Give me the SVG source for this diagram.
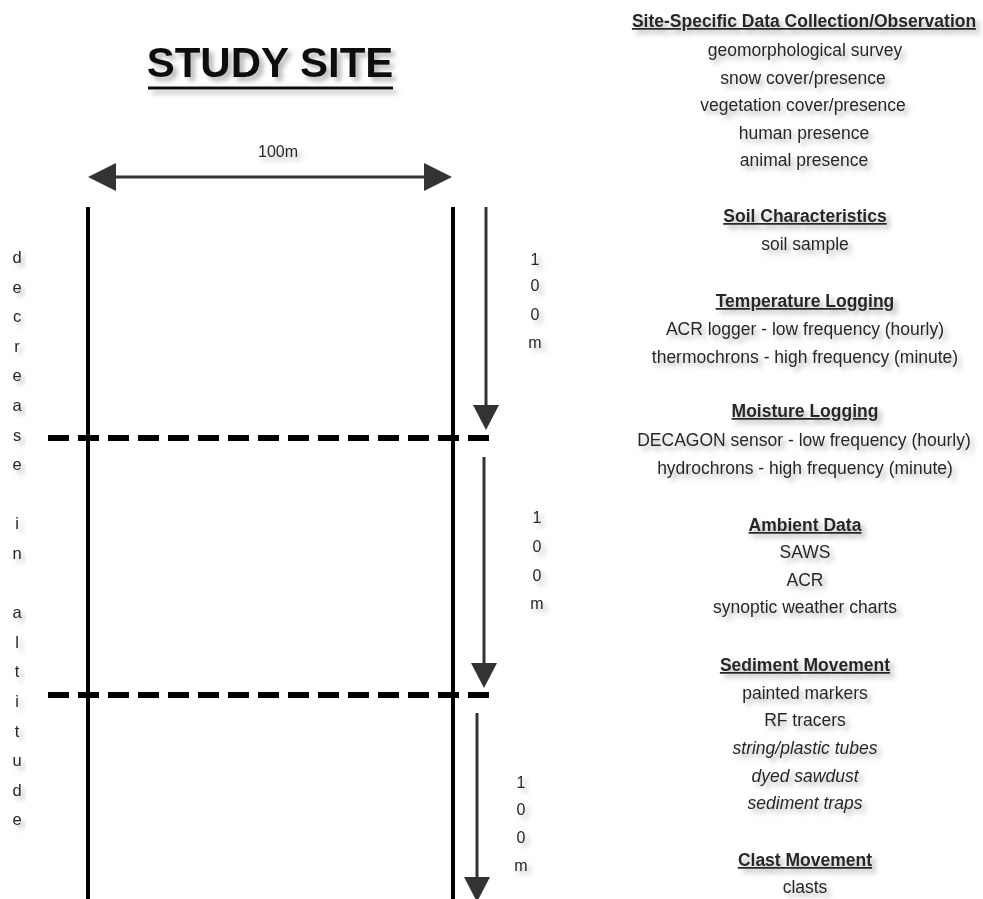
<svg xmlns="http://www.w3.org/2000/svg" width="983" height="899" viewBox="0 0 983 899">
<defs>
<filter id="sh" x="-20%" y="-50%" width="150%" height="250%">
<feDropShadow dx="4" dy="4" stdDeviation="2.4" flood-color="#777" flood-opacity="0.55"/>
</filter>
<marker id="ah" viewBox="0 0 25 26" refX="5" refY="13" markerWidth="25" markerHeight="26" markerUnits="userSpaceOnUse" orient="auto-start-reverse">
<path d="M0,0 L25,13 L0,26 Z" fill="#333"/>
</marker>
<marker id="ahh" viewBox="0 0 28 28" refX="6" refY="14" markerWidth="28" markerHeight="28" markerUnits="userSpaceOnUse" orient="auto-start-reverse">
<path d="M0,0 L28,14 L0,28 Z" fill="#333"/>
</marker>
</defs>
<style>
text{font-family:"Liberation Sans",Arial,sans-serif;fill:#262626}
.t{font-size:17.5px;text-anchor:middle}
.h{font-weight:bold;text-decoration:underline}
.i{font-style:italic}
.v{font-size:16.5px;text-anchor:middle}
.d{font-size:16px;text-anchor:middle}
.arr{stroke:#333;stroke-width:3;fill:none}
.edge{stroke:#000;stroke-width:4}
.dash{stroke:#000;stroke-width:6;stroke-dasharray:21 9}
</style>
<rect width="983" height="899" fill="#fff"/>

<g id="title" filter="url(#sh)">
<text x="270" y="77" style="font-size:42px;font-weight:bold;text-anchor:middle;fill:#111">STUDY SITE</text>
<line x1="148" y1="88" x2="393" y2="88" stroke="#111" stroke-width="3"/>
</g>

<g id="site">
<line class="edge" x1="88" y1="207" x2="88" y2="899"/>
<line class="edge" x1="453" y1="207" x2="453" y2="899"/>
<line class="dash" x1="48" y1="438" x2="489" y2="438"/>
<line class="dash" x1="48" y1="695" x2="489" y2="695"/>
</g>

<g id="connectors">
<line class="arr" x1="110" y1="177" x2="430" y2="177" stroke-width="4" marker-start="url(#ahh)" marker-end="url(#ahh)"/>
<line class="arr" x1="486" y1="207" x2="486" y2="410" marker-end="url(#ah)"/>
<line class="arr" x1="484" y1="457" x2="484" y2="668" marker-end="url(#ah)"/>
<line class="arr" x1="477" y1="713" x2="477" y2="882" marker-end="url(#ah)"/>
</g>

<g id="width-label" filter="url(#sh)">
<text class="t" x="278" y="157" style="font-size:16px">100m</text>
</g>

<g id="segment-labels" filter="url(#sh)">
<text class="d" x="535" y="265">1</text>
<text class="d" x="535" y="291">0</text>
<text class="d" x="535" y="320">0</text>
<text class="d" x="535" y="348">m</text>
<text class="d" x="537" y="523">1</text>
<text class="d" x="537" y="552">0</text>
<text class="d" x="537" y="581">0</text>
<text class="d" x="537" y="609">m</text>
<text class="d" x="521" y="788">1</text>
<text class="d" x="521" y="815">0</text>
<text class="d" x="521" y="843">0</text>
<text class="d" x="521" y="871">m</text>
</g>

<g id="altitude-label" filter="url(#sh)">
<text class="v" x="17" y="263">d</text>
<text class="v" x="17" y="293">e</text>
<text class="v" x="17" y="322">c</text>
<text class="v" x="17" y="352">r</text>
<text class="v" x="17" y="381">e</text>
<text class="v" x="17" y="411">a</text>
<text class="v" x="17" y="441">s</text>
<text class="v" x="17" y="470">e</text>
<text class="v" x="17" y="529">i</text>
<text class="v" x="17" y="559">n</text>
<text class="v" x="17" y="618">a</text>
<text class="v" x="17" y="648">l</text>
<text class="v" x="17" y="677">t</text>
<text class="v" x="17" y="707">i</text>
<text class="v" x="17" y="737">t</text>
<text class="v" x="17" y="766">u</text>
<text class="v" x="17" y="796">d</text>
<text class="v" x="17" y="825">e</text>
</g>

<g id="site-specific" filter="url(#sh)">
<text class="t h" x="804" y="27">Site-Specific Data Collection/Observation</text>
<text class="t" x="805" y="56">geomorphological survey</text>
<text class="t" x="803" y="84">snow cover/presence</text>
<text class="t" x="803" y="111">vegetation cover/presence</text>
<text class="t" x="804" y="139">human presence</text>
<text class="t" x="804" y="166">animal presence</text>
</g>

<g id="soil" filter="url(#sh)">
<text class="t h" x="805" y="222">Soil Characteristics</text>
<text class="t" x="805" y="250">soil sample</text>
</g>

<g id="temperature" filter="url(#sh)">
<text class="t h" x="805" y="307">Temperature Logging</text>
<text class="t" x="805" y="335">ACR logger - low frequency (hourly)</text>
<text class="t" x="805" y="363">thermochrons - high frequency (minute)</text>
</g>

<g id="moisture" filter="url(#sh)">
<text class="t h" x="805" y="417">Moisture Logging</text>
<text class="t" x="804" y="446">DECAGON sensor - low frequency (hourly)</text>
<text class="t" x="805" y="474">hydrochrons - high frequency (minute)</text>
</g>

<g id="ambient" filter="url(#sh)">
<text class="t h" x="805" y="531">Ambient Data</text>
<text class="t" x="805" y="558">SAWS</text>
<text class="t" x="805" y="586">ACR</text>
<text class="t" x="805" y="613">synoptic weather charts</text>
</g>

<g id="sediment" filter="url(#sh)">
<text class="t h" x="805" y="671">Sediment Movement</text>
<text class="t" x="805" y="699">painted markers</text>
<text class="t" x="805" y="726">RF tracers</text>
<text class="t i" x="805" y="754">string/plastic tubes</text>
<text class="t i" x="805" y="782">dyed sawdust</text>
<text class="t i" x="805" y="809">sediment traps</text>
</g>

<g id="clast" filter="url(#sh)">
<text class="t h" x="805" y="866">Clast Movement</text>
<text class="t" x="805" y="893">clasts</text>
</g>
</svg>
